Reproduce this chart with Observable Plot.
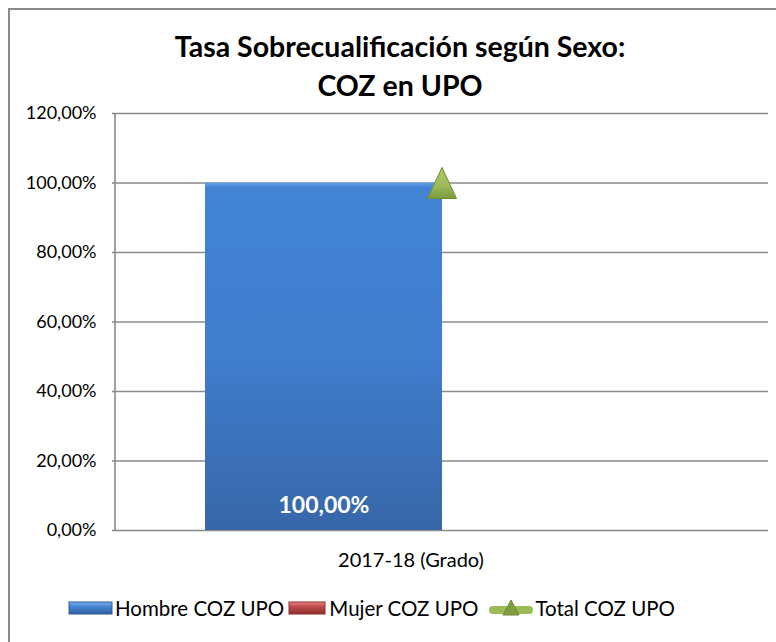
<!DOCTYPE html>
<html><head><meta charset="utf-8">
<script src="https://cdn.jsdelivr.net/npm/d3@7"></script>
<script src="https://cdn.jsdelivr.net/npm/@observablehq/plot@0.6"></script>
<style>
body{margin:0;background:#fff;font-family:Lato,"Open Sans",sans-serif;}
#wrap{position:relative;width:776px;height:642px;overflow:hidden;background:#fff;}
#frame{position:absolute;left:8px;top:8px;width:820px;height:700px;border-left:2px solid #8a8a8a;border-top:2px solid #8a8a8a;}
#title{position:absolute;left:0;width:800px;top:27px;text-align:center;font-weight:bold;font-size:28.5px;line-height:39px;color:#000;}
#plot{position:absolute;left:0;top:100px;}
#legend{position:absolute;left:68px;top:595px;display:flex;align-items:center;font-size:20.5px;color:#000;white-space:nowrap;line-height:26px;}
#legend svg{display:block;}
</style></head>
<body>
<div id="wrap">
  <div id="frame"></div>
  <div id="title">Tasa Sobrecualificación según Sexo:<br>COZ en UPO</div>
  <div id="plot"></div>
  <div id="legend">
    <svg width="45" height="14" style="margin-right:2px"><rect x="1" y="1" width="43" height="12" fill="url(#lgBlue)" stroke="#2f5a93" stroke-width="1"/>
      <defs><linearGradient id="lgBlue" x1="0" y1="0" x2="0" y2="1"><stop offset="0" stop-color="#7fb0ec"/><stop offset="0.35" stop-color="#4a88d6"/><stop offset="1" stop-color="#2f5f9f"/></linearGradient></defs></svg>
    <span id="l0" style="margin-right:4px"></span>
    <svg width="38" height="14" style="margin-right:3px"><rect x="1" y="1" width="36" height="12" fill="url(#lgRed)" stroke="#8e2a28" stroke-width="1"/>
      <defs><linearGradient id="lgRed" x1="0" y1="0" x2="0" y2="1"><stop offset="0" stop-color="#e88a88"/><stop offset="0.35" stop-color="#c0504d"/><stop offset="1" stop-color="#8e2e2b"/></linearGradient></defs></svg>
    <span id="l1" style="margin-right:10px"></span>
    <svg width="46" height="22" style="margin-right:1px"><line x1="5" y1="13" x2="41" y2="13" stroke="#9bbb59" stroke-width="8" stroke-linecap="round"/><path d="M23,3 L31,18 L15,18 Z" fill="#7f9e3e" stroke="#6a8a30" stroke-width="1"/></svg>
    <span id="l2"></span>
  </div>
</div>
<script>
const categories = ["2017-18 (Grado)"];
const seriesNames = ["Hombre COZ UPO", "Mujer COZ UPO", "Total COZ UPO"];
const hombre = [1.0];
const mujer = [0.0];
const total = [1.0];
const yTicks = [0, 0.2, 0.4, 0.6, 0.8, 1.0, 1.2];

const fmt = d => (d * 100).toFixed(2).replace(".", ",") + "%";

const bars = categories.flatMap((c, i) => [
  {cat: c, serie: seriesNames[0], v: hombre[i]},
  {cat: c, serie: seriesNames[1], v: mujer[i]}
]);
const totals = categories.map((c, i) => ({cat: c, v: total[i]}));

document.getElementById("l0").textContent = seriesNames[0];
document.getElementById("l1").textContent = seriesNames[1];
document.getElementById("l2").textContent = seriesNames[2];

const triSymbol = {
  draw(context, size) {
    const r = Math.sqrt(size / Math.PI);
    const w = r * 1.32, h = r * 1.41;
    context.moveTo(0, -h);
    context.lineTo(w, h);
    context.lineTo(-w, h);
    context.closePath();
  }
};

const chart = Plot.plot({
  width: 776,
  height: 490,
  marginTop: 13,
  marginLeft: 115,
  marginRight: 8,
  marginBottom: 60,
  style: {fontFamily: "Lato, 'Open Sans', sans-serif", background: "transparent", overflow: "visible"},
  fx: {domain: categories, padding: 0, label: null, axis: null},
  x: {domain: seriesNames.slice(0, 2), paddingInner: 0, paddingOuter: 0.372, axis: null},
  y: {domain: [0, 1.2], label: null},
  color: {type: "ordinal", domain: seriesNames.slice(0, 2), range: ["url(#gBlue)", "url(#gRed)"]},
  marks: [
    Plot.gridY(yTicks, {stroke: "#8a8a8a", strokeOpacity: 1, strokeWidth: 1.6}),
    Plot.axisY(yTicks, {tickFormat: fmt, tickSize: 3, tickPadding: 16, fontSize: 18, fill: "#000", stroke: "#8a8a8a", strokeWidth: 1.6}),
    Plot.axisFx({anchor: "bottom", tickSize: 0, tickPadding: 22, fontSize: 20, fill: "#000", label: null, dx: -31}),
    Plot.barY(bars, {fx: "cat", x: "serie", y: "v", fill: "serie"}),
    Plot.text(bars.filter(d => d.v > 0), {fx: "cat", x: "serie", y: 0, text: d => fmt(d.v), dy: -25, fill: "#fff", fontSize: 23, fontWeight: "bold"}),
    Plot.dot(totals, {fx: "cat", y: "v", symbol: triSymbol, r: 11, fill: "url(#gGreen)", stroke: "#6f8d33", strokeWidth: 1})
  ]
});

const svg = d3.select(chart);
const defs = svg.insert("defs", ":first-child");
const grad = (id, stops) => {
  const g = defs.append("linearGradient").attr("id", id).attr("x1", 0).attr("y1", 0).attr("x2", 0).attr("y2", 1);
  stops.forEach(([o, c]) => g.append("stop").attr("offset", o).attr("stop-color", c));
};
grad("gBlue", [[0, "#62a0e6"], [0.015, "#4384d5"], [0.5, "#3f7dcd"], [1, "#3767a9"]]);
grad("gRed", [[0, "#e07a77"], [0.4, "#c0504d"], [1, "#8e2e2b"]]);
grad("gGreen", [[0, "#a9c86a"], [0.6, "#9bbb59"], [1, "#7a9a3c"]]);

// vertical value-axis line, placed with the plot's own y scale
const ys = chart.scale("y");
svg.append("line")
  .attr("x1", 115).attr("x2", 115)
  .attr("y1", ys.apply(0)).attr("y2", ys.apply(1.2))
  .attr("stroke", "#8a8a8a").attr("stroke-width", 1.6);

document.getElementById("plot").appendChild(chart);
</script>
</body></html>
